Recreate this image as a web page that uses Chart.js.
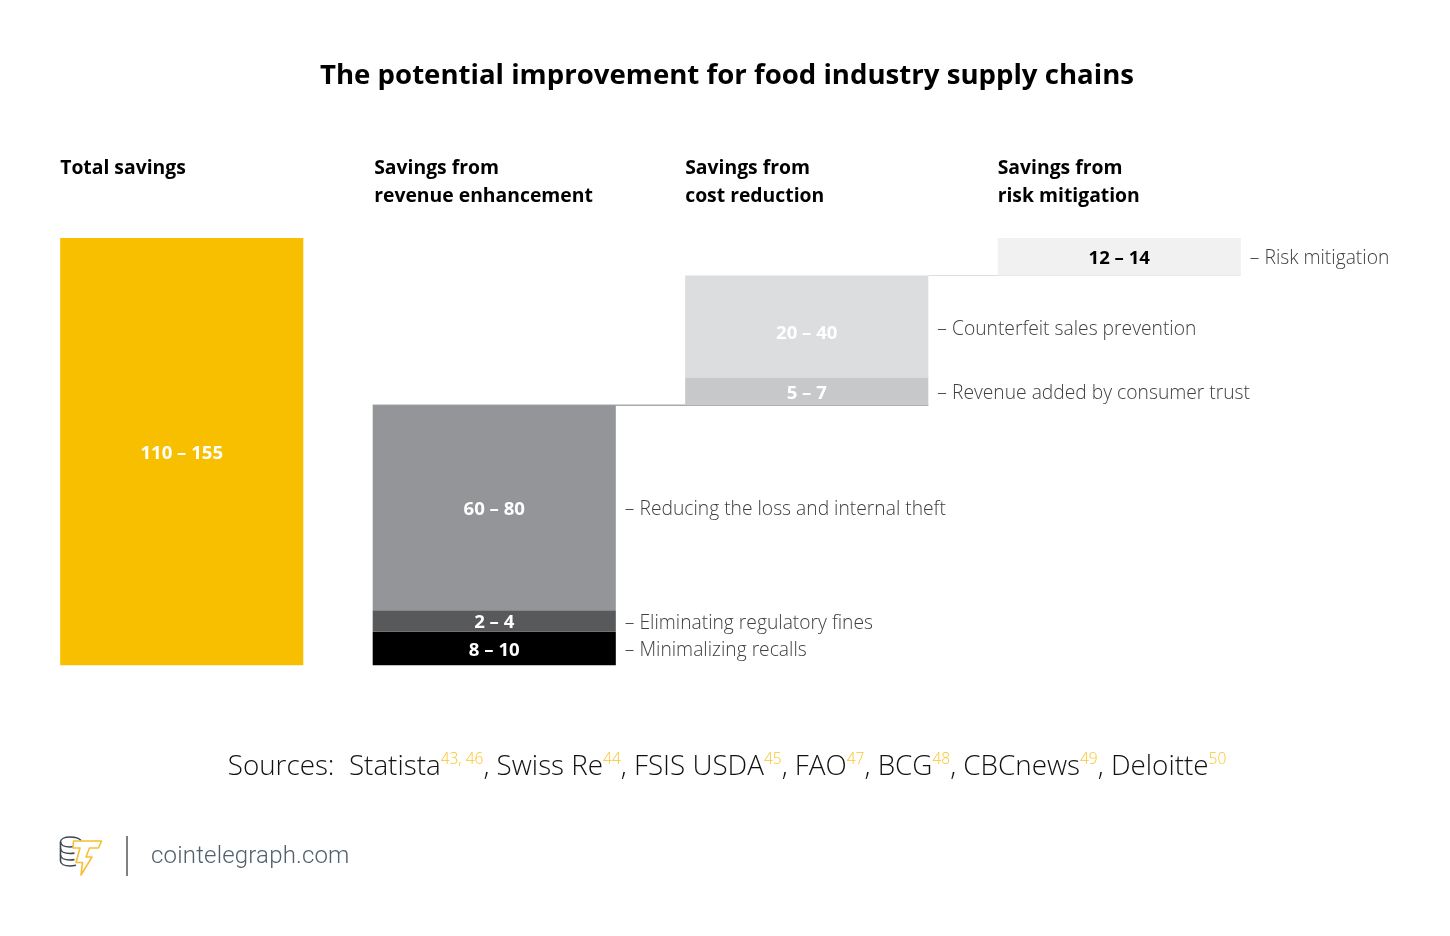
<!DOCTYPE html>
<html>
<head>
<meta charset="utf-8">
<title>The potential improvement for food industry supply chains</title>
<script src="https://cdn.jsdelivr.net/npm/chart.js@4"></script>
<style>
  html, body { margin: 0; padding: 0; background: #fff; }
  body { position: relative; width: 1450px; height: 936px; overflow: hidden; font-family: "Open Sans", sans-serif; }
  #chartWrap { position: absolute; left: 0; top: 0; width: 1450px; height: 936px; }
  h1 { position: absolute; left: 0; top: 54px; width: 1454px; margin: 0; text-align: center; font-size: 27.6px; line-height: 38px; font-weight: 700; color: #000; }
  #sources { position: absolute; left: 0; top: 744px; width: 1454px; text-align: center; font-size: 27.8px; line-height: 40px; font-weight: 300; color: #111; white-space: pre; }
  #sources sup { font-size: 15.5px; line-height: 0; color: #fbc42a; vertical-align: baseline; position: relative; top: -11px; }
  #logo { position: absolute; left: 59px; top: 835px; }
  #divider { position: absolute; left: 126px; top: 836px; width: 2px; height: 40px; background: #808080; }
  #site { position: absolute; left: 151px; top: 838px; font-family: Roboto, sans-serif; font-weight: 300; font-size: 24px; line-height: 34px; color: #51606e; letter-spacing: .18px; }
</style>
</head>
<body>
<div id="chartWrap"><canvas id="chart"></canvas></div>
<h1>The potential improvement for food industry supply chains</h1>
<div id="sources">Sources:  Statista<sup>43, 46</sup>, Swiss Re<sup>44</sup>, FSIS USDA<sup>45</sup>, FAO<sup>47</sup>, BCG<sup>48</sup>, CBCnews<sup>49</sup>, Deloitte<sup>50</sup></div>
<svg id="logo" width="44" height="42" viewBox="0 0 44 42" fill="none">
  <g stroke="#3c4650" stroke-width="1.6">
    <path d="M22 5.5C20 3 16 2 11 2 5.5 2 1.5 4 1.5 7v19c0 3 4 5 9.5 5 2 0 4-.3 6-.8"/>
    <path d="M1.5 7c0 3 4 5 9.5 5 1.500 0 3-.1 4-.4"/>
    <path d="M1.500 13.500c0 3 4 5 9.500 5 1.500 0 3-.1 4.500-.5"/>
    <path d="M1.500 20c0 3 4 5 9.500 5 1.500 0 3-.1 4.500-.5"/>
  </g>
  <path d="M14.500 6h28l-3 7h-9l-3.500 9h6L22 40l1.500-12.500h-6.500l4-14.500h-7z" fill="#fff" stroke="#f7bf33" stroke-width="1.6" stroke-linejoin="round"/>
</svg>
<div id="divider"></div>
<div id="site">cointelegraph.com</div>

<script>
'use strict';

// column headings, one entry per column, split in lines
const categories = ['Total savings', 'Savings from revenue enhancement', 'Savings from cost reduction', 'Savings from risk mitigation'];
const headingLines = [['Total savings'], ['Savings from', 'revenue enhancement'], ['Savings from', 'cost reduction'], ['Savings from', 'risk mitigation']];

// one entry per block, heights (axis runs 0 - 155, the top of the total)
const segmentColumn = [0, 1, 1, 1, 2, 2, 3];
const segmentFrom   = [0, 20, 12.2, 0, 94.4, 104.4, 141.4];
const segmentTo     = [155, 94.4, 20, 12.2, 104.4, 141.4, 155];
const segmentText   = ['110 – 155', '60 – 80', '2 – 4', '8 – 10', '5 – 7', '20 – 40', '12 – 14'];
const sideText      = ['', '– Reducing the loss and internal theft', '– Eliminating regulatory fines', '– Minimalizing recalls',
                       '– Revenue added by consumer trust', '– Counterfeit sales prevention', '– Risk mitigation'];

const FILLS = ['#f7bf00', '#939598', '#58595b', '#000000', '#c7c8ca', '#dcddde', '#f1f1f2'];
const VALUE_INK = ['#fff', '#fff', '#fff', '#fff', '#fff', '#fff', '#000'];

function barBox(chart, i) {
  const bar = chart.getDatasetMeta(i).data[segmentColumn[i]];
  return { left: bar.x - bar.width / 2, right: bar.x + bar.width / 2, cy: (bar.y + bar.base) / 2, top: Math.min(bar.y, bar.base), bottom: Math.max(bar.y, bar.base) };
}

// thin rules that step from one column to the next, drawn before the bars
const connectorPlugin = {
  id: 'connectors',
  beforeDatasetsDraw(chart) {
    const ctx = chart.ctx;
    const rev = barBox(chart, 1), trust = barBox(chart, 4), cf = barBox(chart, 5), risk = barBox(chart, 6);
    ctx.save();
    ctx.lineWidth = 1.5;
    ctx.strokeStyle = '#a7a9ac';
    ctx.beginPath(); ctx.moveTo(rev.left, rev.top); ctx.lineTo(trust.right, rev.top); ctx.stroke();
    ctx.lineWidth = 1;
    ctx.strokeStyle = '#dcddde';
    ctx.beginPath(); ctx.moveTo(cf.right, risk.bottom); ctx.lineTo(risk.right, risk.bottom); ctx.stroke();
    ctx.restore();
  }
};

const labelPlugin = {
  id: 'labels',
  afterDatasetsDraw(chart) {
    const ctx = chart.ctx;
    ctx.save();
    ctx.textBaseline = 'alphabetic';

    // headings
    ctx.font = '700 19.35px "Open Sans"';
    ctx.fillStyle = '#000';
    ctx.textAlign = 'left';
    headingLines.forEach((lines, col) => {
      const idx = segmentColumn.indexOf(col);
      const box = barBox(chart, idx);
      lines.forEach((line, n) => ctx.fillText(line, box.left + (col === 1 ? 1.5 : 0), 174 + n * 28));
    });

    // block values and the labels beside them
    ctx.textBaseline = 'middle';
    segmentText.forEach((text, i) => {
      const box = barBox(chart, i);
      const isCounterfeit = text === '20 – 40';
      ctx.font = '700 18.6px "Open Sans"';
      ctx.textAlign = 'center';
      ctx.fillStyle = VALUE_INK[i];
      ctx.fillText(text, (box.left + box.right) / 2, box.cy + (isCounterfeit ? 7 : 2));
      if (sideText[i]) {
        ctx.font = '300 19.25px "Open Sans"';
        ctx.textAlign = 'left';
        ctx.fillStyle = '#3f3f41';
        ctx.fillText(sideText[i], box.right + 9, box.cy + (isCounterfeit ? 3 : 2));
      }
    });
    ctx.restore();
  }
};

new Chart(document.getElementById('chart'), {
  type: 'bar',
  data: {
    labels: categories,
    datasets: segmentText.map((text, i) => ({
      label: text,
      data: categories.map((c, col) => col === segmentColumn[i] ? [segmentFrom[i], segmentTo[i]] : null),
      backgroundColor: FILLS[i],
      borderWidth: 0,
      grouped: false,
      barPercentage: 0.778,
      categoryPercentage: 1
    }))
  },
  options: {
    responsive: true,
    maintainAspectRatio: false,
    animation: false,
    layout: { padding: { left: 25.5, right: 174.5, top: 238, bottom: 270.5 } },
    plugins: { legend: { display: false }, tooltip: { enabled: false } },
    scales: {
      x: { display: false },
      y: { display: false, min: 0, max: 155 }
    }
  },
  plugins: [connectorPlugin, labelPlugin]
});
</script>
</body>
</html>
